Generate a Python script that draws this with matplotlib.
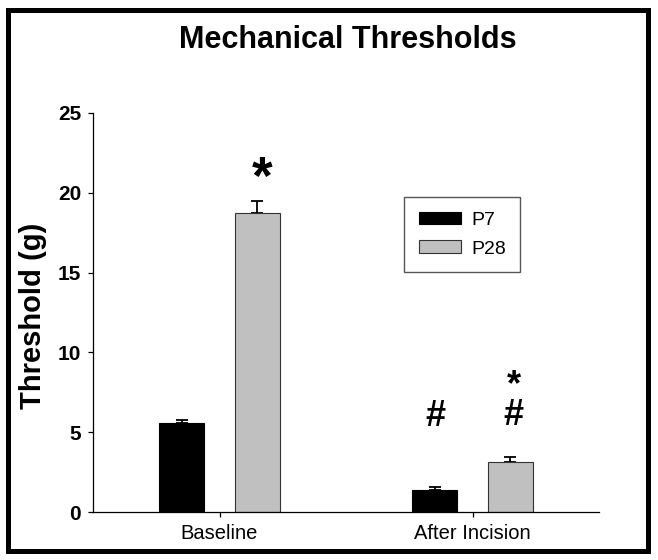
import matplotlib
matplotlib.use("Agg")
import matplotlib.pyplot as plt
import matplotlib.patches as mpatches
import numpy as np

plt.rcParams['font.family'] = ['Liberation Sans', 'DejaVu Sans']

categories = ["Baseline", "After Incision"]
series_names = ["P7", "P28"]
p7_values = [5.58, 1.38]
p7_err = [0.18, 0.19]
p28_values = [18.73, 3.13]
p28_err = [0.76, 0.32]
yticks = [0, 5, 10, 15, 20, 25]

W, H = 658, 560
fig = plt.figure(figsize=(W / 100, H / 100), dpi=100)

def px(x0, y0, x1, y1):
    return [x0 / W, 1 - y1 / H, (x1 - x0) / W, (y1 - y0) / H]

ax = fig.add_axes(px(93, 113, 599, 512))

x = np.arange(len(categories))
off = 0.15
bw = 0.18
ax.bar(x - off, p7_values, bw, color="black", edgecolor="black", linewidth=0.8, label=series_names[0], zorder=2)
ax.bar(x + off, p28_values, bw, color="#c0c0c0", edgecolor="#333333", linewidth=0.8, label=series_names[1], zorder=2)
ax.errorbar(x - off, p7_values, yerr=[np.zeros(2), p7_err], fmt="none", ecolor="black",
            elinewidth=1.3, capsize=4, capthick=1.3, zorder=1)
ax.errorbar(x + off, p28_values, yerr=[np.zeros(2), p28_err], fmt="none", ecolor="black",
            elinewidth=1.3, capsize=4, capthick=1.3, zorder=1)

# significance markers
ax.text(0 + 0.17, 19.9, "*", ha="center", va="baseline", fontsize=38, fontweight="bold")
ax.text(1 - 0.146, 5.38, "#", ha="center", va="baseline", fontsize=26, fontweight="bold")
ax.text(1 + 0.162, 4.92, "*\n#", ha="center", va="bottom", fontsize=26, fontweight="bold",
        linespacing=0.84, multialignment="center")

ax.set_xlim(-0.5, 1.5)
ax.set_ylim(0, 25)
ax.set_yticks(yticks)
ax.set_yticklabels([str(v) for v in yticks], fontsize=15, fontweight="bold")
ax.set_xticks(x)
ax.set_xticklabels(categories, fontsize=14.5)
ax.tick_params(axis="y", direction="out", length=3.6, width=0.9, pad=5)
ax.tick_params(axis="x", direction="out", length=3.6, width=0.9, pad=5)
for s in ("top", "right"):
    ax.spines[s].set_visible(False)
for s in ("left", "bottom"):
    ax.spines[s].set_linewidth(0.9)

leg = ax.legend(loc="upper left", bbox_to_anchor=(404 / W, 1 - 197 / H), bbox_transform=fig.transFigure,
                borderaxespad=0, fontsize=14, handlelength=2.2, handleheight=0.62,
                handletextpad=0.5, labelspacing=0.6, borderpad=0.75, fancybox=False,
                framealpha=1, edgecolor="#555555")
leg.get_frame().set_linewidth(1.0)

fig.text(348 / W, 1 - 40 / H, "Mechanical Thresholds", ha="center", va="center",
         fontsize=22, fontweight="bold")
fig.text(33 / W, 1 - 316 / H, "Threshold (g)", ha="center", va="center", rotation=90,
         fontsize=21, fontweight="bold")

frame = mpatches.Rectangle((8 / W, 1 - 551 / H), 640 / W, 541 / H, transform=fig.transFigure,
                           fill=False, edgecolor="black", linewidth=3.6)
fig.add_artist(frame)

fig.savefig("out.png", dpi=100)
